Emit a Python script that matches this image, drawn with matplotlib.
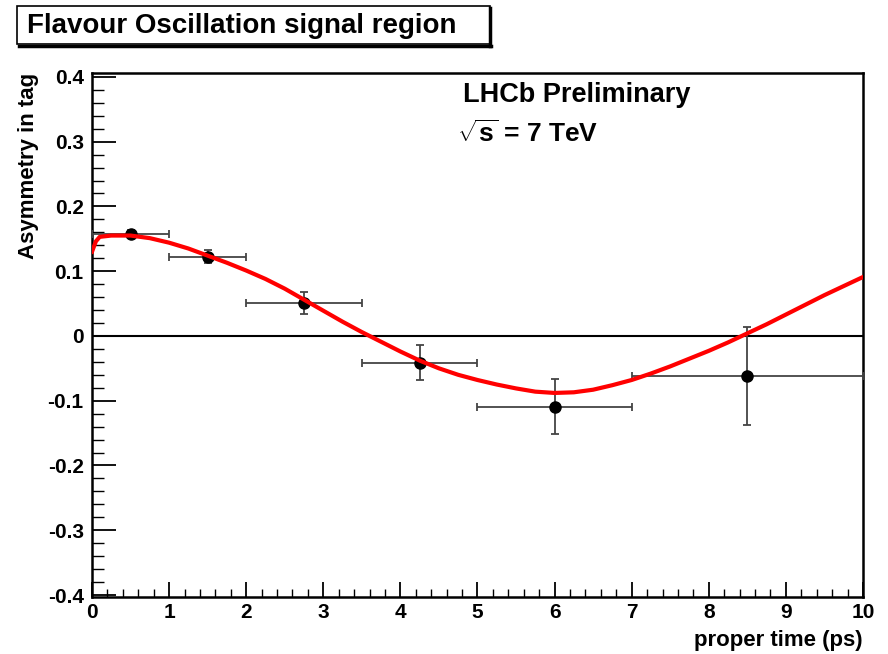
import numpy as np
import matplotlib
matplotlib.use('Agg')
import matplotlib.pyplot as plt
from matplotlib.patches import Rectangle
from matplotlib.ticker import MultipleLocator

plt.rcParams['font.family'] = ['Liberation Sans', 'DejaVu Sans']
plt.rcParams['font.weight'] = 'bold'
plt.rcParams['mathtext.fontset'] = 'custom'
plt.rcParams['mathtext.rm'] = 'Liberation Sans:bold'
plt.rcParams['mathtext.bf'] = 'Liberation Sans:bold'

# binned asymmetry points
t_pts = [0.5, 1.5, 2.75, 4.25, 6.0, 8.5]
t_lo = [0.0, 1.0, 2.0, 3.5, 5.0, 7.0]
t_hi = [1.0, 2.0, 3.5, 5.0, 7.0, 10.0]
asym = [0.158, 0.122, 0.051, -0.041, -0.109, -0.062]
asym_err = [0.006, 0.010, 0.017, 0.027, 0.042, 0.076]

# fitted curve
fit_t = [0.0, 0.05, 0.1, 0.25, 0.5, 0.75, 1.0, 1.25, 1.5, 1.75, 2.0, 2.25,
         2.5, 2.75, 3.0, 3.25, 3.5, 3.75, 4.0, 4.25, 4.5, 4.75, 5.0, 5.25,
         5.5, 5.75, 6.0, 6.25, 6.5, 6.75, 7.0, 7.25, 7.5, 7.75, 8.0, 8.25,
         8.5, 8.75, 9.0, 9.25, 9.5, 9.75, 10.0]
fit_a = [0.130, 0.146, 0.153, 0.155, 0.155, 0.151, 0.144, 0.135, 0.124,
         0.113, 0.101, 0.088, 0.073, 0.056, 0.039, 0.022, 0.006, -0.009,
         -0.024, -0.038, -0.050, -0.060, -0.068, -0.075, -0.081, -0.086,
         -0.088, -0.087, -0.083, -0.076, -0.068, -0.058, -0.047, -0.035,
         -0.023, -0.010, 0.004, 0.018, 0.033, 0.048, 0.063, 0.077, 0.091]

fig = plt.figure(figsize=(8.88, 6.54), dpi=100)
ax = fig.add_axes([0.1036, 0.0872, 0.8682, 0.8012])

ax.axhline(0, color='black', lw=1.5, zorder=1)

t_pts = np.array(t_pts)
xerr = [t_pts - np.array(t_lo), np.array(t_hi) - t_pts]
ax.errorbar(t_pts, asym, xerr=xerr, yerr=asym_err, fmt='o', color='black',
            ecolor='#444444', elinewidth=1.3, capsize=3, capthick=1.3,
            markersize=8, zorder=3)

ax.plot(fit_t, fit_a, color='red', lw=3, zorder=4, solid_joinstyle='round')

ax.set_xlim(0, 10)
ax.set_ylim(-0.403, 0.406)
ax.xaxis.set_major_locator(MultipleLocator(1))
ax.xaxis.set_minor_locator(MultipleLocator(0.2))
ax.yaxis.set_minor_locator(MultipleLocator(0.02))
ax.set_yticks(np.arange(-0.4, 0.41, 0.1))
ax.set_yticklabels(['-0.4', '-0.3', '-0.2', '-0.1', '0', '0.1', '0.2', '0.3', '0.4'])
ax.tick_params(which='both', direction='in', top=False, right=False, labelsize=15)
ax.tick_params(axis='y', which='major', length=17, width=1.3, pad=6)
ax.tick_params(axis='y', which='minor', length=8.5, width=1.0)
ax.tick_params(axis='x', which='major', length=11, width=1.3, pad=4)
ax.tick_params(axis='x', which='minor', length=6, width=1.0)
for lab in ax.get_xticklabels() + ax.get_yticklabels():
    lab.set_fontweight('bold')
for sp in ax.spines.values():
    sp.set_linewidth(1.8)

ax.set_xlabel('proper time (ps)', fontsize=16, fontweight='bold', loc='right', labelpad=6)
ax.set_ylabel('Asymmetry in tag', fontsize=16, fontweight='bold', loc='top', labelpad=6)

ax.text(0.481, 0.958, 'LHCb Preliminary', transform=ax.transAxes,
        fontsize=19.5, fontweight='bold', ha='left', va='center')
ax.text(0.474, 0.885, r'$\sqrt{\mathbf{s}}$ = 7 TeV', transform=ax.transAxes,
        fontsize=19, fontweight='bold', ha='left', va='center')

# title box with shadow, ROOT style
box = Rectangle((17 / 888, 1 - 44 / 654), 473 / 888, 38 / 654,
                transform=fig.transFigure, facecolor='white',
                edgecolor='black', lw=1.2)
fig.patches.append(box)
fig.lines.append(plt.Line2D([490 / 888, 490 / 888], [1 - 46 / 654, 1 - 8 / 654],
                            transform=fig.transFigure, color='black', lw=2.5))
fig.lines.append(plt.Line2D([19 / 888, 491 / 888], [1 - 45.5 / 654, 1 - 45.5 / 654],
                            transform=fig.transFigure, color='black', lw=2.5))
fig.text(27 / 888, 1 - 26 / 654, 'Flavour Oscillation signal region',
         fontsize=20, fontweight='bold', ha='left', va='center')

fig.savefig('out.png', dpi=100)
